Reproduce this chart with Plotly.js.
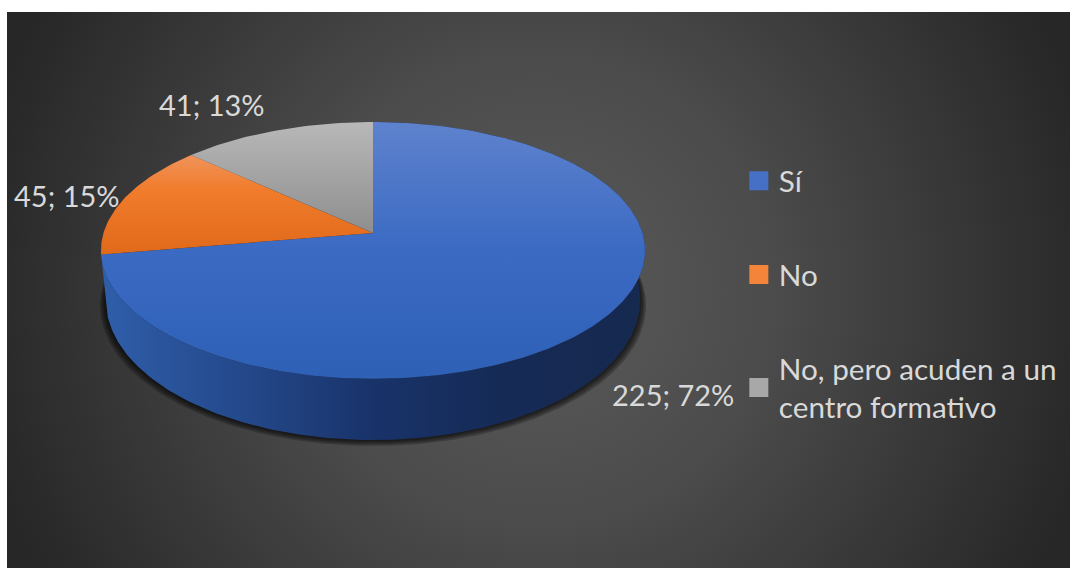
<!DOCTYPE html>
<html><head><meta charset="utf-8">
<script src="https://cdn.plot.ly/plotly-3.0.1.min.js"></script>
<style>
html,body{margin:0;padding:0;background:#fff;width:1070px;height:568px;overflow:hidden}
#bg{position:absolute;left:7px;top:12px;width:1063px;height:556px;
background:radial-gradient(circle 570px at 531px 278px,#5a5a5a 0%,#4c4c4c 40%,#272727 100%)}
#chart{position:absolute;left:0;top:0;width:1070px;height:568px}
</style></head><body><div id="bg"></div><div id="chart"></div>
<script>
const categories = ["Sí", "No", "No, pero acuden a un<br>centro formativo"];
const values = [225, 45, 41];
const percentLabels = ["72%", "15%", "13%"];
const sliceGradients = [
  [[0,"#5e82cd"],[0.5,"#3b6ac3"],[1,"#2e60b6"]],
  [[0,"#f0935a"],[0.35,"#f17c2c"],[1,"#e0691a"]],
  [[0,"#b8b8b8"],[1,"#8e8e8e"]]
];
const swatchColors = ["#4570c5","#f3843a","#a8a8a8"];
const labelPos = [[673,394],[67,195],[212,104]];

const apex=[373,233], persp=0.136, kx=269.5, ky=126, gradStops=[[122,379],[155,254],[122,233]];
const total = values.reduce((a,b)=>a+b,0);
function proj(deg){const t=deg*Math.PI/180,x=Math.sin(t),y=Math.cos(t),w=1+persp*y;return [kx*x/w, ky*y/w];}
const topPt=d=>{const p=proj(d);return [apex[0]+p[0],apex[1]-p[1]];};
const botPt=(d,e=0)=>{const p=proj(d);return [apex[0]+p[0]*0.982+(p[0]>=0?e:-e)*Math.abs(Math.sin(d*Math.PI/180)),apex[1]-(p[1]*1.09-48)+e];};
function range(a,b){const o=[],n=Math.max(2,Math.ceil(Math.abs(b-a)));for(let i=0;i<=n;i++)o.push(a+(b-a)*i/n);return o;}
const traces=[];
const base={type:"scatter",mode:"lines",line:{width:0},fill:"toself",hoverinfo:"skip",showlegend:false};
[6,4.5,3,1.5].forEach(e=>{
  const pts=range(0,360).map(d=>botPt(d,e));
  traces.push({...base,x:pts.map(p=>p[0]),y:pts.map(p=>p[1]),fillcolor:"rgba(0,0,0,0.22)"});
});
const blueEnd=values[0]/total*360;
const wallTop=range(0,blueEnd).map(topPt), wallBot=range(blueEnd,0).map(d=>botPt(d));
const wall=wallTop.concat(wallBot);
traces.push({...base,x:wall.map(p=>p[0]),y:wall.map(p=>p[1]),
  fillgradient:{type:"horizontal",start:104,stop:640,colorscale:[[0,"#2f5ea9"],[0.25,"#24498c"],[0.5,"#19336a"],[0.75,"#152a55"],[1,"#16294f"]]}});
let acc=0;
values.forEach((v,i)=>{
  const a=acc/total*360,b=(acc+v)/total*360;acc+=v;
  const pts=[apex].concat(range(a,b).map(topPt),[apex]);
  traces.push({...base,name:categories[i],x:pts.map(p=>p[0]),y:pts.map(p=>p[1]),
    fillgradient:{type:"vertical",start:gradStops[i][0],stop:gradStops[i][1],colorscale:sliceGradients[i]}});
});
categories.forEach((c,i)=>traces.push({type:"scatter",mode:"markers",x:[null],y:[null],name:c,legendgroup:"g"+i,
  showlegend:true,hoverinfo:"skip",
  marker:{symbol:"square",size:16,color:swatchColors[i],line:{width:3,color:swatchColors[i]}}}));

const annotations=values.map((v,i)=>({xref:"x",yref:"y",x:labelPos[i][0],y:labelPos[i][1],
  text:v+"; "+percentLabels[i],showarrow:false,xanchor:"center",yanchor:"middle",
  font:{family:"Lato, Liberation Sans, sans-serif",size:29,color:"#d9d9d9"}}));
const layout={width:1070,height:568,margin:{l:0,r:0,t:0,b:0},paper_bgcolor:"rgba(0,0,0,0)",plot_bgcolor:"rgba(0,0,0,0)",
  xaxis:{range:[0,1070],visible:false,fixedrange:true},yaxis:{range:[568,0],visible:false,fixedrange:true},
  annotations,
  legend:{x:0.6905,y:0.727,xanchor:"left",yanchor:"top",tracegroupgap:52,itemsizing:"trace",bgcolor:"rgba(0,0,0,0)",
    font:{family:"Lato, Liberation Sans, sans-serif",size:29.7,color:"#d9d9d9"}}
};
Plotly.newPlot("chart",traces,layout,{displayModeBar:false,staticPlot:true});
</script></body></html>
